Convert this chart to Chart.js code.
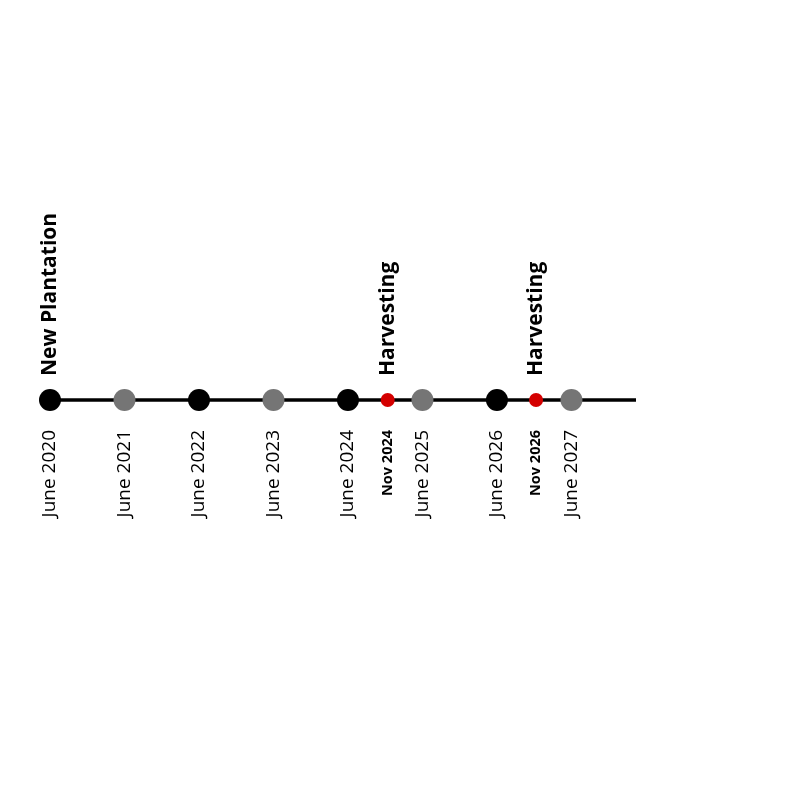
<!DOCTYPE html>
<html><head><meta charset="utf-8">
<script src="https://cdn.jsdelivr.net/npm/chart.js@4"></script>
<style>body{margin:0;background:#fff}#wrap{width:800px;height:800px}</style>
</head><body><div id="wrap"><canvas id="c"></canvas></div>
<script>
// months since June 2020 (positions)
const months = [0, 12, 24, 36, 48, 54.4, 60, 72, 78.3, 84];
const dateLabels = ["June 2020", "June 2021", "June 2022", "June 2023", "June 2024", "Nov 2024", "June 2025", "June 2026", "Nov 2026", "June 2027"];
const kinds = ["major", "minor", "major", "minor", "major", "event", "minor", "major", "event", "minor"];
const eventLabels = ["New Plantation", "", "", "", "", "Harvesting", "", "", "Harvesting", ""];
const lineEnd = 94.4;

const colorOf = {major: "#000000", minor: "#757575", event: "#d40000"};
const radiusOf = {major: 11, minor: 11, event: 7};

const labelPlugin = {
  id: "labels",
  afterDatasetsDraw(chart) {
    const ctx = chart.ctx, xs = chart.scales.x, ys = chart.scales.y;
    const y0 = ys.getPixelForValue(0);
    months.forEach((m, i) => {
      const x = xs.getPixelForValue(m);
      ctx.save();
      ctx.translate(x, 0);
      ctx.rotate(-Math.PI / 2);
      ctx.fillStyle = "#000";
      ctx.textBaseline = "middle";
      if (kinds[i] === "event") {
        ctx.font = "bold 14.5px 'Open Sans'";
      } else {
        ctx.font = "19px 'Open Sans'";
      }
      ctx.textAlign = "right";
      ctx.fillText(dateLabels[i], -(y0 + 30), 0);
      if (eventLabels[i]) {
        ctx.font = "bold 21px 'Open Sans'";
        ctx.textAlign = "left";
        ctx.fillText(eventLabels[i], -(y0 - 24), 0);
      }
      ctx.restore();
    });
  }
};

new Chart(document.getElementById("c"), {
  type: "scatter",
  data: {
    datasets: [
      {
        type: "line",
        data: [{x: 0, y: 0}, {x: lineEnd, y: 0}],
        borderColor: "#000",
        borderWidth: 3.5,
        pointRadius: 0,
        clip: false,
        order: 2
      },
      {
        data: months.map(m => ({x: m, y: 0})),
        pointRadius: kinds.map(k => radiusOf[k]),
        pointBackgroundColor: kinds.map(k => colorOf[k]),
        pointBorderWidth: 0,
        clip: false,
        order: 1
      }
    ]
  },
  options: {
    responsive: true,
    maintainAspectRatio: false,
    animation: false,
    layout: {padding: {left: 50, right: 164, top: 0, bottom: 0}},
    plugins: {legend: {display: false}, tooltip: {enabled: false}},
    scales: {
      x: {type: "linear", min: 0, max: lineEnd, display: false},
      y: {min: -1, max: 1, display: false}
    }
  },
  plugins: [labelPlugin]
});
</script></body></html>
